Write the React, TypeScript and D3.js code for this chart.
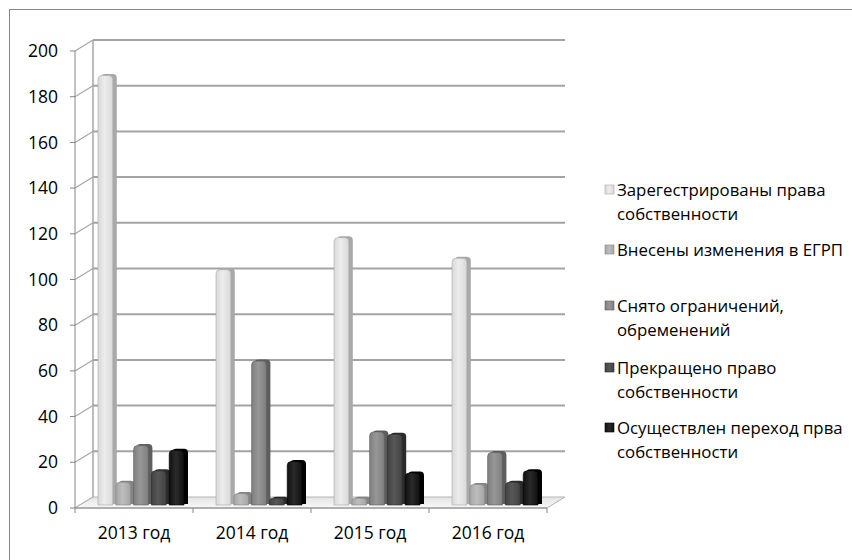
import React from "react";
import * as d3 from "d3";

const categories = ["2013 год", "2014 год", "2015 год", "2016 год"];
const seriesNames = [
  "Зарегестрированы права собственности",
  "Внесены изменения в ЕГРП",
  "Снято ограничений, обременений",
  "Прекращено право собственности",
  "Осуществлен переход прва собственности",
];
const legendLines = [
  ["Зарегестрированы права", "собственности"],
  ["Внесены изменения в ЕГРП"],
  ["Снято ограничений,", "обременений"],
  ["Прекращено право", "собственности"],
  ["Осуществлен переход прва", "собственности"],
];
const registered = [188, 103, 117, 108];
const changes = [10, 5, 3, 9];
const restrictions = [26, 63, 32, 23];
const terminated = [15, 3, 31, 10];
const transferred = [24, 19, 14, 15];
const seriesValues = [registered, changes, restrictions, terminated, transferred];
const yTicks = [0, 20, 40, 60, 80, 100, 120, 140, 160, 180, 200];

const frontColors = ["#d9d9d9", "#a5a5a5", "#7f7f7f", "#424242", "#101010"];
const sideColors = ["#a9a9a9", "#858585", "#5e5e5e", "#2b2b2b", "#000000"];
const lightColors = ["#ececec", "#bdbdbd", "#979797", "#575757", "#2a2a2a"];

const FONT = "'Open Sans', sans-serif";
const DX = 18;
const DY = -11;
const BDX = 0;
const BDY = -3;

export default function App() {
  const x = d3.scaleBand<string>().domain(categories).range([75, 547]).padding(0);
  const inner = d3.scaleBand<string>().domain(seriesNames).range([23, 112]).padding(0);
  const y = d3.scaleLinear().domain([0, 200]).range([508, 51]);
  const bw = inner.bandwidth();
  const side = 3;
  const fw = bw - side;

  const barPath = (x0: number, yTop: number, yBot: number, w: number) => {
    const r = Math.min(4, (yBot - yTop) / 2, w / 2);
    return `M${x0},${yBot} L${x0},${yTop + r} Q${x0},${yTop} ${x0 + r},${yTop} L${x0 + w - r},${yTop} Q${x0 + w},${yTop} ${x0 + w},${yTop + r} L${x0 + w},${yBot} Z`;
  };

  const x0 = x.range()[0];
  const x1 = x.range()[1];

  return (
    <svg
      width={852}
      height={560}
      style={{ position: "absolute", left: 0, top: 0, background: "#fff" }}
      fontFamily={FONT}
    >
      <defs>
        {frontColors.map((c, i) => (
          <linearGradient key={i} id={`g${i}`} x1="0" x2="1" y1="0" y2="0">
            <stop offset="0" stopColor={c} />
            <stop offset="0.45" stopColor={lightColors[i]} />
            <stop offset="1" stopColor={c} />
          </linearGradient>
        ))}
        <linearGradient id="floor" x1="0" x2="0" y1="0" y2="1">
          <stop offset="0" stopColor="#e4e4e4" />
          <stop offset="1" stopColor="#f8f8f8" />
        </linearGradient>
      </defs>
      <rect x={9.5} y={9.5} width={900} height={600} fill="#fff" stroke="#868686" strokeWidth={1} />

      {/* back wall */}
      <line x1={x0 + DX} x2={x0 + DX} y1={y(0) + DY} y2={y(200) + DY} stroke="#a6a6a6" strokeWidth={1.5} />
      {yTicks.map((t) => (
        <g key={t}>
          {t > 0 && (
            <line x1={x0 + DX} x2={x1 + DX} y1={y(t) + DY} y2={y(t) + DY} stroke="#a3a3a3" strokeWidth={2} />
          )}
          <line x1={x0} x2={x0 + DX} y1={y(t)} y2={y(t) + DY} stroke="#a6a6a6" strokeWidth={1.2} />
          <line x1={x0 - 5} x2={x0} y1={y(t)} y2={y(t)} stroke="#868686" strokeWidth={1} />
          <text x={58} y={y(t)} dy="0.35em" textAnchor="end" fontSize={17.5} fill="#000">
            {t}
          </text>
        </g>
      ))}
      {/* floor */}
      <polygon
        points={`${x0},${y(0)} ${x1},${y(0)} ${x1 + DX},${y(0) + DY} ${x0 + DX},${y(0) + DY}`}
        fill="url(#floor)"
        stroke="#b5b5b5"
        strokeWidth={1}
      />
      <line x1={x0} x2={x0} y1={y(0)} y2={y(200)} stroke="#868686" strokeWidth={1} />
      <line x1={x0} x2={x1} y1={y(0)} y2={y(0)} stroke="#868686" strokeWidth={1} />
      {[...categories.map((c) => x(c)!), x1].map((tx, i) => (
        <line key={i} x1={tx} x2={tx} y1={y(0)} y2={y(0) + 5} stroke="#868686" strokeWidth={1} />
      ))}

      {/* bars */}
      {categories.map((c, ci) => (
        <g key={c}>
          {seriesNames.map((s, si) => {
            const v = seriesValues[si][ci];
            const bx = x(c)! + inner(s)! + BDX;
            const yb = y(0) + BDY;
            const yt = y(v) + BDY;
            return (
              <g key={s}>
                <path d={barPath(bx + 1, yt - 1.5, yb - 1, fw + 1)} fill={sideColors[si]} transform={`translate(${side - 1},0)`} />
                <path d={barPath(bx, yt, yb, fw)} fill={`url(#g${si})`} stroke={sideColors[si]} strokeWidth={0.6} />
              </g>
            );
          })}
          <text x={x(c)! + x.bandwidth() / 2} y={533} dy="0.35em" textAnchor="middle" fontSize={17.5} fill="#000">
            {c}
          </text>
        </g>
      ))}

      {/* legend */}
      {legendLines.map((lines, i) => {
        const cy = [190, 250, 306, 368, 428][i];
        return (
          <g key={i}>
            <rect x={605} y={cy - 5} width={9} height={9} fill={`url(#g${i})`} stroke={sideColors[i]} strokeWidth={0.6} />
            {lines.map((l, li) => (
              <text key={li} x={617} y={cy + li * 24} dy="0.35em" fontSize={16.8} fill="#000">
                {l}
              </text>
            ))}
          </g>
        );
      })}
    </svg>
  );
}
